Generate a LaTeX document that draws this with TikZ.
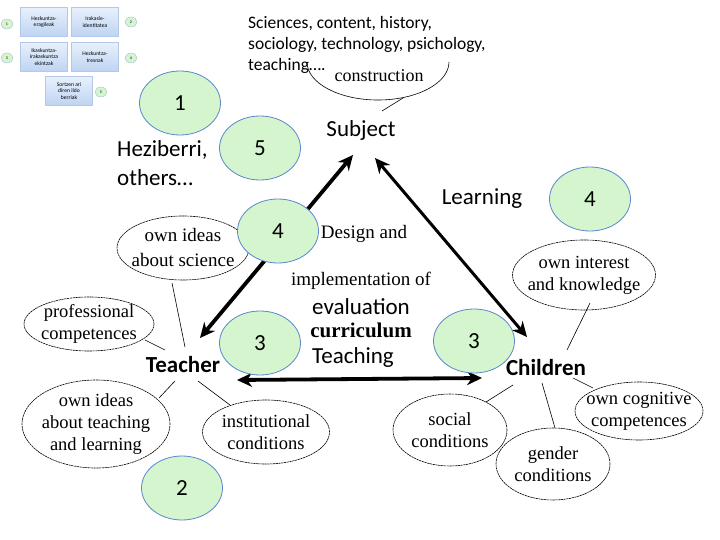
\documentclass[tikz,border=0pt]{standalone}
\usepackage{fontspec}
\setmainfont{Liberation Serif}
\newfontfamily\calib{Carlito}
\usetikzlibrary{shapes.geometric,arrows.meta,calc}
\definecolor{numfill}{RGB}{212,245,205}
\definecolor{numline}{RGB}{90,135,205}
\definecolor{boxtop}{RGB}{232,240,252}
\definecolor{boxbot}{RGB}{190,212,242}
\definecolor{boxline}{RGB}{180,200,232}
\tikzset{
  numcirc/.style={ellipse, draw=numline, fill=numfill, line width=0.8pt,
    minimum width=81pt, minimum height=64pt, inner sep=0pt,
    font=\calib\fontsize{23}{26}\selectfont},
  tinycirc/.style={ellipse, draw=numline!60, fill=numfill, line width=0.3pt,
    minimum width=12pt, minimum height=10pt, inner sep=0pt,
    font=\calib\fontsize{4}{4}\selectfont},
  tinybox/.style={rectangle, draw=boxline, line width=0.3pt, top color=boxtop, bottom color=boxbot,
    minimum width=47pt, minimum height=29pt, inner sep=0pt, align=center,
    font=\calib\fontsize{5.6}{6.4}\selectfont},
  idea/.style={ellipse, draw, line width=0.6pt, dash pattern=on 2.2pt off 0.6pt,
    inner xsep=-14pt, inner ysep=-8pt,
    align=center, font=\fontsize{18.5}{22}\selectfont},
  sanstext/.style={inner sep=0pt, font=\calib\fontsize{23}{29}\selectfont},
  sertext/.style={inner sep=0pt, font=\fontsize{19}{22}\selectfont},
  role/.style={inner sep=0pt, font=\calib\bfseries\fontsize{23}{26}\selectfont},
  link/.style={line width=0.6pt},
  bigarrow/.style={line width=3.8pt, {Stealth[length=15pt,width=14pt]}-{Stealth[length=15pt,width=14pt]}},
}
\begin{document}
\begin{tikzpicture}[x=1pt,y=-1pt]
\useasboundingbox (0,0) rectangle (720,540);
\fill[white] (0,0) rectangle (720,540);

% small legend boxes
\node[tinybox] (b1) at (44,22) {Hezkuntza-\\eragileak};
\node[tinybox] (b2) at (95,22) {Irakasle-\\identitatea};
\node[tinybox] (b3) at (44,57) {Ikaskuntza-\\irakaskuntza\\ekintzak};
\node[tinybox] (b4) at (95,57) {Hezkuntza-\\tresnak};
\node[tinybox] (b5) at (69,91) {Sortzen ari\\diren ildo\\berriak};
\node[tinycirc] (s1) at (7,24) {1};
\node[tinycirc] (s2) at (131,22) {2};
\node[tinycirc] (s3) at (7,58) {3};
\node[tinycirc] (s4) at (131,58) {4};
\node[tinycirc] (s5) at (101,92) {5};

% top text
\node[anchor=north west, align=left, inner sep=0pt, font=\calib\fontsize{17.5}{21}\selectfont] (topics) at (248,16)
  {Sciences, content, history,\\sociology, technology, psichology,\\teaching\dots.};

% construction
\node[inner sep=0pt, font=\fontsize{18}{21}\selectfont] (constr) at (379,76) {construction};
\coordinate (cc) at (378,62);
\draw[link] ($(cc)+(-71,0)$) arc[start angle=180, end angle=360, x radius=71pt, y radius=38pt];

% main nodes
\node[sanstext] (subject) at (361,130) {Subject};
\node[role] (teacher) at (183,365) {Teacher};
\node[role] (children) at (546,368) {Children};
\draw[link] ($(cc)+(25,36)$) -- ($(subject)+(21,-19)$);

% texts
\node[sanstext, anchor=north west, align=left] (hezi) at (117,140) {Heziberri,\\others\dots};
\node[sanstext] (learning) at (482,199) {Learning};
\node[sertext] (design) at (364,234) {Design and};
\node[sertext] (impl) at (361,281) {implementation of};
\node[sanstext] (eval) at (361,307) {evaluation};
\node[inner sep=0pt, font=\bfseries\fontsize{21}{24}\selectfont] (curr) at (361,330) {curriculum};
\node[sanstext] (teach) at (353,357) {Teaching};

% arrows
\draw[bigarrow] ($(teacher)+(17,-27)$) -- ($(subject)+(-8,25)$);
\draw[bigarrow, line width=3pt] ($(subject)+(14,28)$) -- ($(children)+(-19,-31)$);
\draw[bigarrow] ($(teacher)+(54,15)$) -- ($(children)+(-64,10)$);

% teacher ideas
\node[idea, minimum width=132pt, minimum height=64pt, font=\fontsize{19}{25}\selectfont] (sci) at (183,248) {own ideas\\about science};
\node[idea, minimum width=130pt, minimum height=54pt] (prof) at (89,324) {professional\\competences};
\node[idea, minimum width=148pt, minimum height=88pt] (tl) at (96,424) {own ideas\\about teaching\\and learning};
\node[idea, minimum width=127pt, minimum height=64pt] (inst) at (266,432) {institutional\\conditions};
\draw[link] ($(sci)+(-11,35)$) -- ($(teacher)+(2,-18)$);
\draw[link] ($(prof)+(56,16)$) -- ($(teacher)+(-18,-15)$);
\draw[link] ($(tl)+(63,-26)$) -- ($(teacher)+(-8,16)$);
\draw[link] ($(inst)+(-36,-27)$) -- ($(teacher)+(15,16)$);

% children ideas
\node[idea, minimum width=143pt, minimum height=70pt] (interest) at (584,275) {own interest\\and knowledge};
\node[idea, minimum width=114pt, minimum height=72pt] (social) at (450,430) {social\\conditions};
\node[idea, minimum width=114pt, minimum height=72pt] (gender) at (553,464) {gender\\conditions};
\node[idea, minimum width=128pt, minimum height=58pt] (cogn) at (639,411) {own cognitive\\competences};
\draw[link] ($(interest)+(6,28)$) -- ($(children)+(21,-18)$);
\draw[link] ($(social)+(36,-28)$) -- ($(children)+(-33,17)$);
\draw[link] ($(gender)+(2,-36)$) -- ($(children)+(-4,15)$);
\draw[link] ($(cogn)+(-46,-23)$) -- ($(children)+(27,10)$);

% numbered circles
\node[numcirc] (n1) at (180,103) {1};
\node[numcirc] (n5) at (260,148) {5};
\node[numcirc] (n4a) at (278,231) {4};
\node[numcirc] (n3a) at (260,343) {3};
\node[numcirc] (n2) at (182,488) {2};
\node[numcirc] (n3b) at (474,341) {3};
\node[numcirc] (n4b) at (590,199) {4};
\end{tikzpicture}
\end{document}
